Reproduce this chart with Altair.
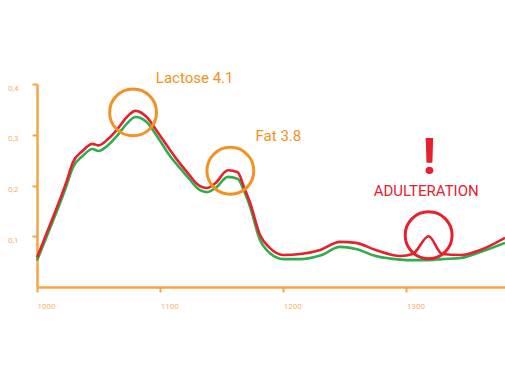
import altair as alt
import pandas as pd

wavelength = [1000, 1011, 1024, 1029, 1037, 1045, 1050, 1057, 1065, 1073, 1080, 1089, 1098, 1108,
              1114, 1124, 1130, 1138, 1145, 1155, 1163, 1168, 1173, 1181, 1189, 1200, 1214, 1230,
              1246, 1259, 1275, 1295, 1305, 1318, 1329, 1344, 1360, 1380]
red_vals = [0.058, 0.125, 0.208, 0.245, 0.268, 0.282, 0.279, 0.290, 0.310, 0.335, 0.347, 0.335,
            0.305, 0.270, 0.250, 0.220, 0.203, 0.195, 0.205, 0.230, 0.226, 0.197, 0.166, 0.103,
            0.077, 0.063, 0.065, 0.073, 0.089, 0.087, 0.073, 0.061, 0.065, 0.100, 0.065, 0.063,
            0.073, 0.097]
green_vals = [0.052, 0.118, 0.200, 0.235, 0.258, 0.272, 0.268, 0.278, 0.298, 0.322, 0.335, 0.325,
              0.295, 0.258, 0.240, 0.212, 0.195, 0.187, 0.195, 0.217, 0.213, 0.190, 0.158, 0.093,
              0.067, 0.055, 0.055, 0.062, 0.079, 0.075, 0.061, 0.054, 0.053, 0.053, 0.055, 0.057,
              0.069, 0.087]

x_ticks = [1000, 1100, 1200, 1300]
y_ticks = [0.1, 0.2, 0.3, 0.4]

circle_x = [1078, 1157, 1318]
circle_y = [0.344, 0.229, 0.102]
circle_kind = ["orange", "orange", "red"]

label_text = ["Lactose 4.1", "Fat 3.8", "ADULTERATION"]
label_x = [1128, 1196, 1316]
label_y = [0.412, 0.298, 0.189]
label_kind = ["orange", "orange", "red"]

ORANGE = "#f39220"
AXIS = "#f5a545"
LABEL = "#f6b46c"
RED = "#e6202c"
GREEN = "#2fae4e"
FONT = "Liberation Sans Narrow, Roboto, sans-serif"

df_red = pd.DataFrame({"x": wavelength, "y": red_vals})
df_green = pd.DataFrame({"x": wavelength, "y": green_vals})
df_circ = pd.DataFrame({"x": circle_x, "y": circle_y, "k": circle_kind})
df_lab = pd.DataFrame({"x": label_x, "y": label_y, "t": label_text, "k": label_kind})
df_bang = pd.DataFrame({"x": [1318.5], "y": [0.222], "t": ["!"]})

xs = alt.Scale(domain=[1000, 1380], nice=False, zero=False)
ys = alt.Scale(domain=[0, 0.4], nice=False)
kcol = alt.Scale(domain=["orange", "red"], range=[ORANGE, RED])

xax = alt.Axis(values=x_ticks, title=None, grid=False, labelAlign="left", labelPadding=10,
               format="d",
               tickSize=5, labelFontSize=8, labelColor=LABEL, domainColor=AXIS, tickColor=AXIS,
               domainWidth=2.5, tickWidth=2, labelFont=FONT)
yax = alt.Axis(values=y_ticks, title=None, grid=False, labelExpr="replace(format(datum.value, '.1f'), '.', ',')",
               tickSize=5, labelFontSize=8, labelColor=LABEL, domainColor=AXIS, tickColor=AXIS,
               domainWidth=2.5, tickWidth=2, labelPadding=14, labelBaseline="top", labelFont=FONT)

green = alt.Chart(df_green).mark_line(color=GREEN, strokeWidth=2.6, interpolate="monotone").encode(
    x=alt.X("x:Q", scale=xs, axis=xax), y=alt.Y("y:Q", scale=ys, axis=yax))
red = alt.Chart(df_red).mark_line(color=RED, strokeWidth=2.6, interpolate="monotone").encode(
    x="x:Q", y="y:Q")
circles = alt.Chart(df_circ).mark_point(shape="circle", filled=False, size=2200, strokeWidth=3,
                                        opacity=1).encode(
    x="x:Q", y="y:Q", color=alt.Color("k:N", scale=kcol, legend=None))
labels = alt.Chart(df_lab).mark_text(fontSize=15, font=FONT, align="center", baseline="middle").encode(
    x="x:Q", y="y:Q", text="t:N", color=alt.Color("k:N", scale=kcol, legend=None))
bang = alt.Chart(df_bang).mark_text(fontSize=50, font=FONT, fontWeight="bold", color=RED,
                                    align="center", baseline="alphabetic").encode(
    x="x:Q", y="y:Q", text="t:N")

chart = alt.layer(green, red, circles, labels, bang).properties(
    width=468, height=203,
    autosize=alt.AutoSizeParams(type="none"),
    padding={"left": 37, "top": 84, "right": 0, "bottom": 88},
).configure_view(stroke=None)

chart.save("out.html", embed_options={"renderer": "svg", "actions": False})
